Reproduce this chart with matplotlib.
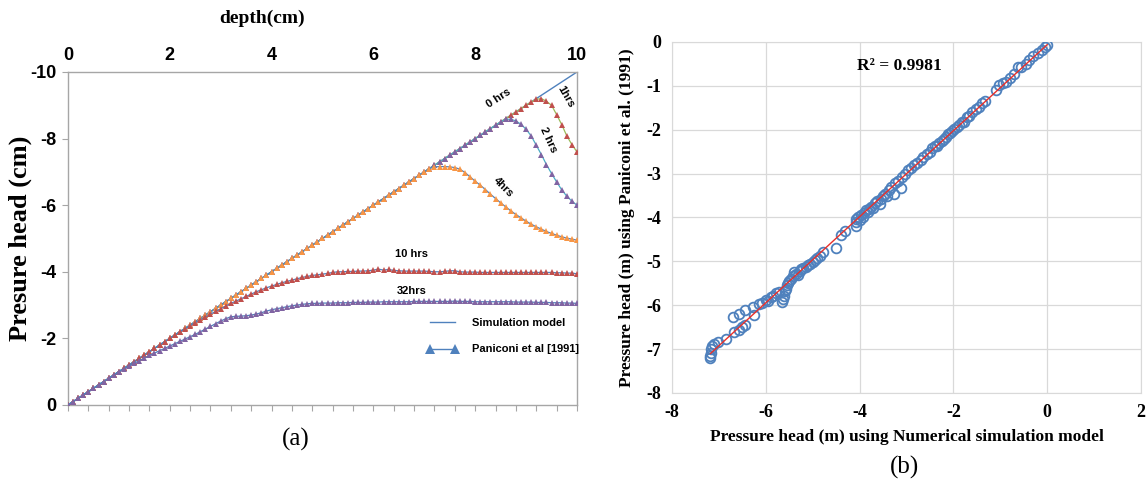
import numpy as np
import matplotlib
matplotlib.use("Agg")
import matplotlib.pyplot as plt
from matplotlib.ticker import MultipleLocator
from matplotlib.lines import Line2D

plt.rcParams["axes.unicode_minus"] = False

# ---- panel (a): pressure head profiles, nodes every 0.1 cm ----
depth = [i / 10 for i in range(101)]

hrs0_x = [0, 10]
hrs0_y = [0, -10]

hrs1 = [0, -0.1, -0.2, -0.3, -0.4, -0.5, -0.6, -0.7, -0.8, -0.9,
        -1.0, -1.1, -1.2, -1.3, -1.4, -1.5, -1.6, -1.7, -1.8, -1.9,
        -2.0, -2.1, -2.2, -2.3, -2.4, -2.5, -2.6, -2.7, -2.8, -2.9,
        -3.0, -3.1, -3.2, -3.3, -3.4, -3.5, -3.6, -3.7, -3.8, -3.9,
        -4.0, -4.1, -4.2, -4.3, -4.4, -4.5, -4.6, -4.7, -4.8, -4.9,
        -5.0, -5.1, -5.2, -5.3, -5.4, -5.5, -5.6, -5.7, -5.8, -5.9,
        -6.0, -6.1, -6.2, -6.3, -6.4, -6.5, -6.6, -6.7, -6.8, -6.9,
        -7.0, -7.1, -7.2, -7.3, -7.4, -7.5, -7.6, -7.7, -7.8, -7.9,
        -8.0, -8.1, -8.2, -8.3, -8.4, -8.5, -8.6, -8.7, -8.8, -8.9,
        -9.0, -9.1, -9.18, -9.2, -9.12, -9.0, -8.72, -8.42, -8.08, -7.82,
        -7.6]

hrs2 = [0, -0.1, -0.2, -0.3, -0.4, -0.5, -0.6, -0.7, -0.8, -0.9,
        -1.0, -1.1, -1.2, -1.3, -1.4, -1.5, -1.6, -1.7, -1.8, -1.9,
        -2.0, -2.1, -2.2, -2.3, -2.4, -2.5, -2.6, -2.7, -2.8, -2.9,
        -3.0, -3.1, -3.2, -3.3, -3.4, -3.5, -3.6, -3.7, -3.8, -3.9,
        -4.0, -4.1, -4.2, -4.3, -4.4, -4.5, -4.6, -4.7, -4.8, -4.9,
        -5.0, -5.1, -5.2, -5.3, -5.4, -5.5, -5.6, -5.7, -5.8, -5.9,
        -6.0, -6.1, -6.2, -6.3, -6.4, -6.5, -6.6, -6.7, -6.8, -6.9,
        -7.0, -7.1, -7.2, -7.3, -7.4, -7.5, -7.6, -7.7, -7.8, -7.9,
        -8.0, -8.1, -8.2, -8.3, -8.4, -8.5, -8.58, -8.58, -8.53, -8.43,
        -8.28, -8.08, -7.8, -7.52, -7.22, -6.95, -6.7, -6.46, -6.27, -6.12,
        -6.0]

hrs4 = [0, -0.1, -0.2, -0.3, -0.4, -0.5, -0.6, -0.7, -0.8, -0.9,
        -1.0, -1.1, -1.2, -1.3, -1.4, -1.5, -1.6, -1.7, -1.8, -1.9,
        -2.0, -2.1, -2.2, -2.3, -2.4, -2.5, -2.6, -2.7, -2.8, -2.9,
        -3.0, -3.1, -3.2, -3.3, -3.4, -3.5, -3.6, -3.7, -3.8, -3.9,
        -4.0, -4.1, -4.2, -4.3, -4.4, -4.5, -4.6, -4.7, -4.8, -4.9,
        -5.0, -5.1, -5.2, -5.3, -5.4, -5.5, -5.6, -5.7, -5.8, -5.9,
        -6.0, -6.1, -6.2, -6.3, -6.4, -6.5, -6.6, -6.7, -6.8, -6.9,
        -7.0, -7.1, -7.15, -7.16, -7.16, -7.15, -7.13, -7.08, -6.98, -6.85,
        -6.72, -6.6, -6.47, -6.33, -6.2, -6.07, -5.95, -5.83, -5.72, -5.62,
        -5.52, -5.43, -5.35, -5.28, -5.21, -5.15, -5.1, -5.05, -5.01, -4.98,
        -4.95]

hrs10 = [0, -0.1, -0.2, -0.3, -0.4, -0.5, -0.6, -0.7, -0.8, -0.9,
         -1.0, -1.1, -1.2, -1.3, -1.4, -1.5, -1.6, -1.7, -1.8, -1.9,
         -2.0, -2.1, -2.2, -2.29, -2.38, -2.47, -2.56, -2.64, -2.73, -2.81,
         -2.89, -2.97, -3.05, -3.12, -3.19, -3.26, -3.33, -3.4, -3.46, -3.52,
         -3.57, -3.62, -3.67, -3.71, -3.75, -3.79, -3.83, -3.86, -3.89, -3.91,
         -3.93, -3.95, -3.98, -4.0, -4.0, -4.01, -4.01, -4.02, -4.02, -4.03,
         -4.05, -4.08, -4.05, -4.07, -4.04, -4.03, -4.02, -4.02, -4.02, -4.02,
         -4.02, -4.01, -4.0, -4.0, -4.01, -4.03, -4.03, -4.0, -3.99, -3.99,
         -3.99, -3.98, -3.98, -3.98, -3.98, -3.98, -3.98, -3.98, -3.98, -3.98,
         -3.98, -3.98, -3.98, -3.98, -3.98, -3.98, -3.97, -3.97, -3.96, -3.96,
         -3.94]

hrs32 = [0, -0.1, -0.2, -0.3, -0.4, -0.5, -0.6, -0.7, -0.8, -0.9,
         -1.0, -1.09, -1.17, -1.25, -1.33, -1.41, -1.49, -1.56, -1.63, -1.7,
         -1.77, -1.84, -1.91, -1.98, -2.05, -2.12, -2.2, -2.28, -2.36, -2.44,
         -2.52, -2.59, -2.65, -2.66, -2.67, -2.68, -2.7, -2.73, -2.77, -2.82,
         -2.86, -2.89, -2.92, -2.95, -2.98, -3.0, -3.02, -3.04, -3.05, -3.05,
         -3.06, -3.06, -3.06, -3.07, -3.07, -3.07, -3.08, -3.08, -3.08, -3.09,
         -3.09, -3.09, -3.1, -3.1, -3.1, -3.1, -3.1, -3.1, -3.11, -3.11,
         -3.11, -3.11, -3.11, -3.11, -3.11, -3.11, -3.12, -3.11, -3.11, -3.11,
         -3.1, -3.1, -3.1, -3.1, -3.1, -3.1, -3.1, -3.1, -3.09, -3.09,
         -3.09, -3.09, -3.08, -3.08, -3.08, -3.07, -3.07, -3.07, -3.06, -3.06,
         -3.05]

# ---- panel (b): numerical model vs Paniconi et al. (1991) ----
sim_head = [-7.18, -7.18, -7.17, -7.16, -7.14, -7.10, -7.03, -6.85, -6.68, -6.58,
            -6.50, -6.44, -6.70, -6.58, -6.45, -6.28, -6.25, -6.15, -6.08, -6.00,
            -5.95, -5.90, -5.85, -5.78, -5.72, -5.66, -5.64, -5.62, -5.60, -5.57,
            -5.55, -5.52, -5.50, -5.46, -5.42, -5.40, -5.36, -5.32, -5.28, -5.24,
            -5.20, -5.15, -5.10, -5.05, -5.00, -4.95, -4.90, -4.85, -4.79, -4.50,
            -4.40, -4.32, -4.08, -4.08, -4.07, -4.03, -4.00, -3.97, -3.93, -3.90,
            -3.87, -3.83, -3.80, -3.76, -3.72, -3.68, -3.63, -3.57, -3.55, -3.50,
            -3.45, -3.41, -3.38, -3.33, -3.27, -3.24, -3.18, -3.11, -3.10, -3.03,
            -2.97, -2.90, -2.84, -2.78, -2.70, -2.64, -2.57, -2.50, -2.45, -2.40,
            -2.35, -2.30, -2.25, -2.20, -2.16, -2.12, -2.07, -2.03, -1.98, -1.93,
            -1.88, -1.82, -1.77, -1.72, -1.66, -1.60, -1.52, -1.45, -1.38, -1.32,
            -1.10, -1.02, -0.95, -0.88, -0.80, -0.70, -0.62, -0.55, -0.45, -0.38,
            -0.30, -0.20, -0.12, -0.05, 0.00]
pan_head = [-7.21, -7.15, -7.08, -7.00, -6.93, -6.88, -6.83, -6.76, -6.62, -6.56,
            -6.50, -6.45, -6.27, -6.20, -6.10, -6.04, -6.22, -5.98, -5.95, -5.88,
            -5.90, -5.82, -5.78, -5.72, -5.70, -5.92, -5.85, -5.78, -5.68, -5.62,
            -5.55, -5.50, -5.45, -5.40, -5.33, -5.24, -5.28, -5.30, -5.22, -5.18,
            -5.15, -5.12, -5.08, -5.05, -5.02, -4.98, -4.93, -4.88, -4.78, -4.69,
            -4.40, -4.30, -4.20, -4.10, -4.03, -4.00, -4.06, -3.95, -4.00, -3.90,
            -3.84, -3.88, -3.80, -3.75, -3.78, -3.68, -3.63, -3.70, -3.57, -3.50,
            -3.46, -3.52, -3.38, -3.30, -3.47, -3.22, -3.17, -3.33, -3.08, -3.00,
            -2.92, -2.88, -2.80, -2.76, -2.70, -2.62, -2.56, -2.50, -2.42, -2.38,
            -2.36, -2.30, -2.26, -2.20, -2.17, -2.10, -2.08, -2.02, -1.98, -1.93,
            -1.90, -1.82, -1.83, -1.72, -1.68, -1.60, -1.52, -1.48, -1.38, -1.34,
            -1.10, -0.98, -0.94, -0.92, -0.82, -0.73, -0.58, -0.56, -0.50, -0.40,
            -0.32, -0.24, -0.18, -0.12, -0.06]

RED = "#c0504d"
PURPLE = "#8064a2"
ORANGE = "#f79646"
BLUE = "#4f81bd"
GREEN = "#9bbb59"
CYAN = "#4bacc6"
GRAY = "#a6a6a6"

fig = plt.figure(figsize=(11.48, 4.86), dpi=100)

# ================= (a) =================
ax = fig.add_axes([0.0592, 0.1667, 0.4434, 0.6852])
ax.plot(hrs0_x, hrs0_y, color=BLUE, lw=1.0, zorder=2)

series = [(hrs1, GREEN, RED), (hrs2, CYAN, PURPLE), (hrs4, BLUE, ORANGE),
          (hrs10, BLUE, RED), (hrs32, BLUE, PURPLE)]
for k, (vals, lc, mc) in enumerate(series):
    ax.plot(depth, vals, color=lc, lw=0.9, zorder=3 + k)
    ax.plot(depth, vals, ls="none", marker="^", ms=4.5, color=mc,
            markeredgewidth=0, zorder=3 + k)

ax.set_xlim(0, 10)
ax.set_ylim(0, -10)
ax.xaxis.set_major_locator(MultipleLocator(2))
ax.xaxis.set_minor_locator(MultipleLocator(0.4))
ax.xaxis.remove_overlapping_locs = False
ax.yaxis.set_major_locator(MultipleLocator(2))
ax.tick_params(axis="x", which="major", top=True, labeltop=True, bottom=False,
               labelbottom=False, length=0, pad=6)
ax.tick_params(axis="x", which="minor", bottom=True, top=False, length=4,
               color=GRAY, width=0.8)
ax.tick_params(axis="y", which="major", left=True, length=4, color=GRAY, width=0.8, pad=4)
for lab in ax.get_xticklabels() + ax.get_yticklabels():
    lab.set_fontfamily("Liberation Sans")
    lab.set_fontweight("bold")
    lab.set_fontsize(13)
for s in ax.spines.values():
    s.set_color(GRAY)
    s.set_linewidth(1.0)

ax.set_ylabel("Presure head (cm)", fontfamily="Liberation Serif", fontweight="bold",
              fontsize=19)
ax.yaxis.set_label_coords(-0.07, 0.5)
fig.text(0.228, 0.962, "depth(cm)", ha="center", va="center",
         fontfamily="Liberation Serif", fontweight="bold", fontsize=14)

lab_kw = dict(fontfamily="Liberation Sans", fontsize=8, fontweight="bold",
              ha="center", va="center")
ax.text(8.46, -9.2, "0 hrs", rotation=33, **lab_kw)
ax.text(9.78, -9.25, "1hrs", rotation=-60, **lab_kw)
ax.text(9.44, -7.95, "2 hrs", rotation=-65, **lab_kw)
ax.text(8.56, -6.54, "4hrs", rotation=-45, **lab_kw)
ax.text(6.75, -4.53, "10 hrs", **lab_kw)
ax.text(6.75, -3.42, "32hrs", **lab_kw)

handles = [Line2D([], [], color=BLUE, lw=1.0),
           Line2D([], [], color=BLUE, lw=1.0, marker="^", ms=6.5, markeredgewidth=0)]
leg = ax.legend(handles, ["Simulation model", "Paniconi et al [1991]"],
                loc="upper left", bbox_to_anchor=(0.705, 0.262), frameon=False,
                borderaxespad=0, borderpad=0, numpoints=2, handlelength=2.8,
                handletextpad=1.3, labelspacing=1.5,
                prop={"family": "Liberation Sans", "size": 8, "weight": "bold"})

fig.text(0.258, 0.095, "(a)", ha="center", va="center",
         fontfamily="Liberation Serif", fontsize=18)

# ================= (b) =================
bx = fig.add_axes([0.5854, 0.1914, 0.4085, 0.7222])
bx.plot(sim_head, pan_head, ls="none", marker="o", ms=7, mfc="none",
        mec=BLUE, mew=1.3, zorder=3)
coef = np.polyfit(sim_head, pan_head, 1)
fx = np.array([min(sim_head), max(sim_head)])
bx.plot(fx, np.polyval(coef, fx), color="#e8302a", lw=1.0, zorder=4)

bx.set_xlim(-8, 2)
bx.set_ylim(-8, 0)
bx.xaxis.set_major_locator(MultipleLocator(2))
bx.yaxis.set_major_locator(MultipleLocator(1))
bx.grid(True, color="#d9d9d9", lw=0.9)
bx.set_axisbelow(True)
bx.tick_params(length=0, pad=8)
for lab in bx.get_xticklabels() + bx.get_yticklabels():
    lab.set_fontfamily("Liberation Serif")
    lab.set_fontweight("bold")
    lab.set_fontsize(13)
for s in bx.spines.values():
    s.set_color("#d9d9d9")

bx.text(-3.15, -0.55, "R² = 0.9981", ha="center", va="center",
        fontfamily="Liberation Serif", fontweight="bold", fontsize=12.5)
bx.set_xlabel("Pressure head (m) using Numerical simulation model",
              fontfamily="Liberation Serif", fontweight="bold", fontsize=12.5, labelpad=6)
bx.set_ylabel("Pressure head (m) using Paniconi et al. (1991)",
              fontfamily="Liberation Serif", fontweight="bold", fontsize=12.5, labelpad=8)

fig.text(0.788, 0.039, "(b)", ha="center", va="center",
         fontfamily="Liberation Serif", fontsize=18)

fig.savefig("out.png", dpi=100)
